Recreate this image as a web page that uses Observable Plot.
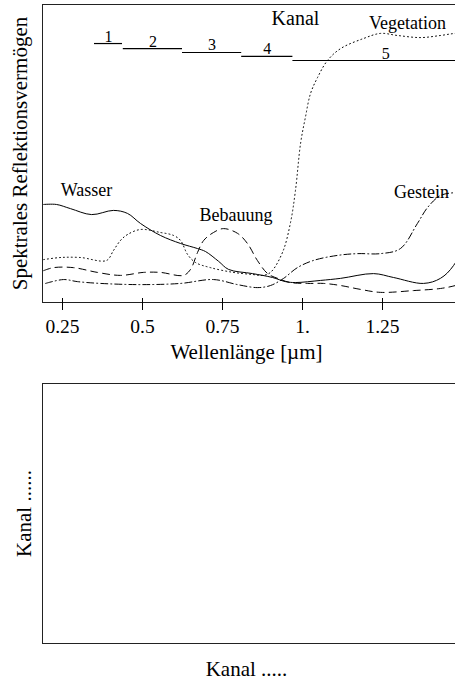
<!DOCTYPE html>
<html>
<head>
<meta charset="utf-8">
<script src="https://cdn.jsdelivr.net/npm/d3@7"></script>
<script src="https://cdn.jsdelivr.net/npm/@observablehq/plot@0.6"></script>
<style>
  html, body { margin: 0; padding: 0; background: #fff; overflow: hidden; width: 455px; height: 681px; }
  svg { display: block; max-width: none !important; }
</style>
</head>
<body>
<div id="top"></div>
<div id="bottom"></div>
<script>
// ---- data ----
const seriesNames = ["Wasser", "Vegetation", "Bebauung", "Gestein"];

const wasserX = [0.191, 0.231, 0.275, 0.341, 0.409, 0.453, 0.494, 0.556, 0.619, 0.672, 0.697, 0.738, 0.769, 0.844, 0.906, 0.947, 0.978, 1.056, 1.119, 1.222, 1.284, 1.378, 1.431, 1.472, 1.525];
const wasserY = [32.9, 32.9, 31.5, 29.5, 30.9, 29.9, 26.5, 22.5, 19.8, 18.1, 17.1, 13.8, 11.1, 9.7, 8.4, 7.0, 6.7, 7.4, 8.1, 9.7, 8.4, 6.4, 8.1, 12.4, 24.0];

const vegetationX = [0.191, 0.244, 0.306, 0.3875, 0.409, 0.431, 0.453, 0.494, 0.556, 0.597, 0.619, 0.641, 0.666, 0.7125, 0.784, 0.844, 0.875, 0.9, 0.9375, 0.9625, 0.978, 0.994, 1.009, 1.025, 1.047, 1.078, 1.119, 1.191, 1.244, 1.297, 1.369, 1.431, 1.478, 1.525];
const vegetationY = [14.4, 15.1, 15.1, 14.1, 17.4, 20.8, 22.8, 24.5, 23.5, 22.5, 20.8, 16.1, 13.4, 11.7, 10.1, 9.4, 9.1, 10.1, 16.8, 26.8, 37.6, 53.4, 62.1, 70.1, 75.5, 81.2, 85.2, 88.6, 90.3, 89.6, 88.9, 89.6, 90.3, 90.3];

const bebauungX = [0.191, 0.222, 0.284, 0.359, 0.431, 0.503, 0.556, 0.628, 0.65, 0.672, 0.691, 0.722, 0.753, 0.797, 0.828, 0.859, 0.891, 0.922, 0.9625, 1.016, 1.066, 1.119, 1.181, 1.244, 1.347, 1.431, 1.478, 1.525];
const bebauungY = [10.7, 11.7, 11.7, 10.1, 9.1, 10.1, 10.1, 9.1, 11.1, 16.8, 20.8, 23.5, 24.8, 23.2, 19.8, 14.1, 9.7, 8.1, 6.7, 6.4, 6.4, 5.7, 4.4, 3.4, 4.0, 4.7, 5.7, 7.4];

const gesteinX = [0.197, 0.253, 0.297, 0.369, 0.494, 0.619, 0.722, 0.797, 0.859, 0.9, 0.941, 0.984, 1.034, 1.109, 1.172, 1.244, 1.306, 1.359, 1.391, 1.431, 1.478, 1.525];
const gesteinY = [6.4, 7.7, 7.0, 6.4, 6.0, 6.4, 7.7, 6.0, 5.0, 5.7, 8.1, 11.7, 14.1, 15.8, 16.4, 16.4, 18.1, 26.5, 31.9, 35.9, 36.9, 37.2];

// channels (Kanal)
const kanalNames = ["1", "2", "3", "4", "5"];
const kanalStart = [0.35, 0.44, 0.625, 0.81, 0.97];
const kanalEnd   = [0.4375, 0.625, 0.81, 0.97, 1.55];
const kanalLevel = [86.9, 85.2, 83.9, 82.6, 81.2];

// axis ticks
const xTicks = [0.25, 0.5, 0.75, 1, 1.25];
const xTickLabels = ["0.25", "0.5", "0.75", "1.", "1.25"];

const xTitle = "Wellenlänge [µm]";
const yTitle = "Spektrales Reflektionsvermögen";
const kanalTitle = "Kanal";
const bottomXTitle = "Kanal .....";
const bottomYTitle = "Kanal ......";

// ---- tables ----
const toRows = (xs, ys) => xs.map((x, i) => ({x, y: ys[i]}));
const wasser = toRows(wasserX, wasserY);
const vegetation = toRows(vegetationX, vegetationY);
const bebauung = toRows(bebauungX, bebauungY);
const gestein = toRows(gesteinX, gesteinY);
const kanal = kanalNames.map((n, i) => ({n, x1: kanalStart[i], x2: kanalEnd[i], y: kanalLevel[i]}));

const FONT = "'Liberation Serif', 'Times New Roman', serif";
const ink = "#000";

const lineOpts = {x: "x", y: "y", curve: "catmull-rom", stroke: ink, strokeWidth: 1, clip: true};

const topChart = Plot.plot({
  width: 470,
  height: 365,
  marginTop: 4,
  marginBottom: 63,
  marginLeft: 42,
  marginRight: 0,
  style: {fontFamily: FONT, fontSize: "19.5px", color: ink, background: "#fff", maxWidth: "none"},
  x: {domain: [0.1875, 1.525], axis: null},
  y: {domain: [0, 100], axis: null},
  marks: [
    Plot.line(wasser, {...lineOpts}),
    Plot.line(vegetation, {...lineOpts, strokeDasharray: "1,3"}),
    Plot.line(bebauung, {...lineOpts, strokeDasharray: "7,5"}),
    Plot.line(gestein, {...lineOpts, strokeDasharray: "7,3,1,3"}),
    Plot.ruleY(kanal, {y: "y", x1: "x1", x2: "x2", stroke: ink, strokeWidth: 1.2}),
    Plot.text(kanal, {x: d => (d.x1 + d.x2) / 2, y: "y", text: "n", lineAnchor: "bottom", dy: -2, fontSize: 16}),
    Plot.text([kanalTitle], {x: 0.978, y: 93, text: d => d, lineAnchor: "bottom", fontSize: 20}),
    Plot.text([seriesNames[0]], {x: 0.325, y: 35.6, text: d => d, lineAnchor: "bottom", fontSize: 18}),
    Plot.text([seriesNames[1]], {x: 1.328, y: 91.9, text: d => d, lineAnchor: "bottom", fontSize: 18}),
    Plot.text([seriesNames[2]], {x: 0.792, y: 27.5, text: d => d, lineAnchor: "bottom", fontSize: 18}),
    Plot.text([seriesNames[3]], {x: 1.372, y: 35.2, text: d => d, lineAnchor: "bottom", fontSize: 18}),
    Plot.frame({stroke: "#222", strokeWidth: 1}),
    Plot.tickX(xTicks, {x: d => d, insetTop: 294, stroke: ink}),
    Plot.axisX({ticks: xTicks, tickFormat: (d, i) => xTickLabels[i], tickSize: 8, tickPadding: 9, label: null, stroke: ink, fill: ink}),
    Plot.text([xTitle], {frameAnchor: "bottom", text: d => d, lineAnchor: "bottom", dy: 56, dx: -10, fontSize: 21}),
    Plot.text([yTitle], {frameAnchor: "left", text: d => d, textAnchor: "middle", lineAnchor: "middle", rotate: -90, dx: -22, fontSize: 21})
  ]
});
document.getElementById("top").appendChild(topChart);

const bottomChart = Plot.plot({
  width: 470,
  height: 316,
  marginTop: 18,
  marginBottom: 38,
  marginLeft: 42,
  marginRight: 0,
  style: {fontFamily: FONT, fontSize: "21px", color: ink, background: "#fff", maxWidth: "none"},
  x: {domain: [0, 1], axis: null},
  y: {domain: [0, 1], axis: null},
  marks: [
    Plot.frame({stroke: "#222", strokeWidth: 1}),
    Plot.text([bottomXTitle], {frameAnchor: "bottom", text: d => d, lineAnchor: "bottom", dy: 32, dx: -10, fontSize: 21}),
    Plot.text([bottomYTitle], {frameAnchor: "left", text: d => d, textAnchor: "middle", lineAnchor: "middle", rotate: -90, dx: -18, fontSize: 21})
  ]
});
document.getElementById("bottom").appendChild(bottomChart);
</script>
</body>
</html>
